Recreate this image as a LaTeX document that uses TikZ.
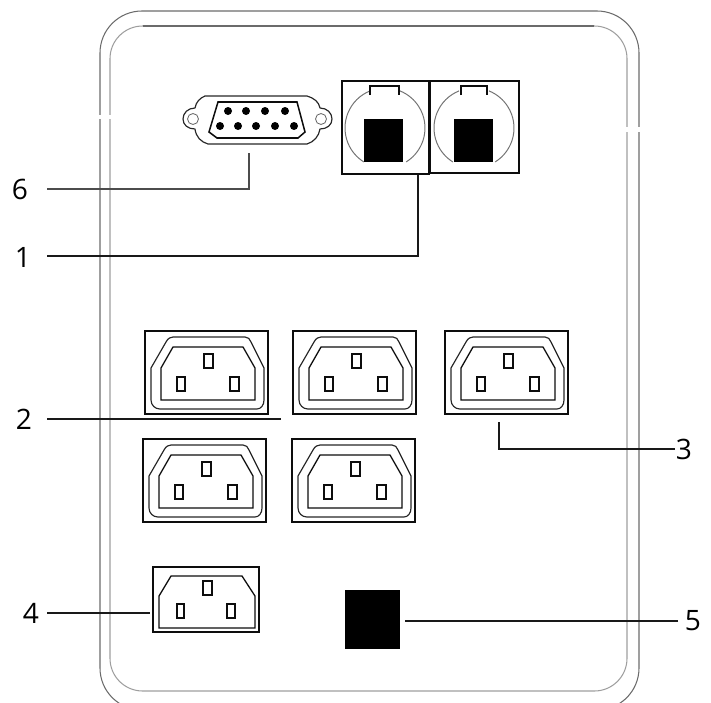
\documentclass[tikz,border=0pt]{standalone}
\usepackage{fontspec}
\setmainfont{Open Sans}
\definecolor{framedark}{rgb}{0.42,0.42,0.42}
\definecolor{framelight}{rgb}{0.62,0.62,0.62}
\definecolor{ringgray}{rgb}{0.45,0.45,0.45}
\tikzset{
  numlabel/.style={font=\fontsize{24}{26}\selectfont,inner sep=0pt},
  leader/.style={line width=1pt,color=black!90},
  port/.style={line width=1.1pt,color=black!95},
  outline/.style={line width=1pt,color=black!85,line join=round},
  ring/.style={line width=0.85pt,color=ringgray}
}
\begin{document}
\begin{tikzpicture}[line cap=butt,line join=miter,x=0.03cm,y=0.03cm]
\clip (0,0) rectangle (711,-702);
% case
\draw [line width=0.9pt,color=framedark,rounded corners=1.26cm] (100,-11) rectangle (639,-710);
\draw [line width=0.9pt,color=framelight,rounded corners=0.98cm] (110,-26) rectangle (627,-691);
\draw [line width=0.9pt,color=framedark] (143,-26) -- (594,-26);
\fill [white] (96,-115) rectangle (116,-119);
\fill [white] (622,-127) rectangle (644,-132);
% serial port
\draw [outline] (205,-96) -- (307,-96) .. controls (314,-98) and (319,-102) .. (320,-108)
  .. controls (327,-108) and (332,-113) .. (332,-119) .. controls (332,-125) and (327,-129) .. (320,-129)
  .. controls (319,-136) and (314,-142) .. (307,-144) -- (208,-144)
  .. controls (201,-142) and (196,-137) .. (195,-129) .. controls (188,-129) and (183,-125) .. (183,-119)
  .. controls (183,-113) and (188,-108) .. (195,-108) .. controls (196,-102) and (200,-98) .. (205,-96) -- cycle;
\draw [line width=0.7pt,color=black!60] (193,-119) circle (5.5);
\draw [line width=0.7pt,color=black!60] (321,-119) circle (5.5);
\draw [port,line width=1.3pt] (218,-102) -- (297,-102) -- (305,-132) -- (298,-138) -- (217,-138) -- (209,-132) -- cycle;
\foreach \x in {228,246,265,285}
\fill (\x,-111) circle (4);
\foreach \x in {220,238,256,275,294}
\fill (\x,-126) circle (4);
% jacks
\draw [port,line width=1.3pt] (342,-81) rectangle (429,-174);
\draw [port,line width=1.3pt] (430,-81) rectangle (519,-173);
\foreach \x/\a/\b/\c/\d in {385/364/403/370/399,474/454/493/461/487}{
\draw [ring] (\x,-128) ++(-58:40) arc[start angle=-58,end angle=68,radius=40];
\draw [ring] (\x,-128) ++(112:40) arc[start angle=112,end angle=238,radius=40];
\fill (\a,-119) rectangle (\b,-162);
\draw [port] (\c,-95) -- (\c,-86) -- (\d,-86) -- (\d,-95);
}
% sockets
\foreach \x/\y in {145/331,293/331,445/331,143/439,292/439}{
\begin{scope}[shift={(\x,-\y)}]
\draw [port] (0,0) rectangle (123,-83);
\draw [outline] (6,-37) -- (21,-11) .. controls (23,-7) and (26,-6) .. (28,-6) -- (100,-6) .. controls (103,-6) and (105,-8) .. (106,-11) -- (119,-37)
  -- (119,-69) .. controls (119,-74) and (116,-78) .. (112,-78) -- (15,-78) .. controls (10,-78) and (6,-74) .. (6,-69) -- cycle;
\draw [port] (16,-37) -- (28,-16) -- (98,-16) -- (110,-37) -- (110,-69) -- (16,-69) -- cycle;
\draw [port] (59,-23) rectangle (68,-37);
\draw [port] (32,-46) rectangle (40,-60);
\draw [port] (85,-46) rectangle (94,-60);
\end{scope}
}
% input socket
\draw [port] (153,-567) rectangle (259,-632);
\draw [port] (159,-596) -- (171,-576) -- (242,-576) -- (255,-596) -- (255,-628) -- (159,-628) -- cycle;
\draw [port] (203,-581) rectangle (212,-595);
\draw [port] (177,-604) rectangle (184,-618);
\draw [port] (227,-604) rectangle (235,-618);
% switch
\fill (345,-590) rectangle (400,-649);
% labels and leaders
\node [numlabel] (lab6) at (20,-189) {6};
\node [numlabel] (lab1) at (23,-257) {1};
\node [numlabel] (lab2) at (24,-419) {2};
\node [numlabel] (lab3) at (684,-449) {3};
\node [numlabel] (lab4) at (31,-613) {4};
\node [numlabel] (lab5) at (693,-621) {5};
\coordinate (from6) at (47,-189);
\coordinate (to6) at (249,-153);
\coordinate (from1) at (47,-256);
\coordinate (to1) at (418,-175);
\coordinate (from2) at (47,-419);
\coordinate (to2) at (281,-419);
\coordinate (from3) at (675,-449);
\coordinate (to3) at (499,-422);
\coordinate (from4) at (47,-613);
\coordinate (to4) at (150,-613);
\coordinate (from5) at (678,-621);
\coordinate (to5) at (405,-621);
\draw [leader,color=black!70] (from6) -| (to6);
\draw [leader] (from1) -| (to1);
\draw [leader] (from2) -- (to2);
\draw [leader] (from3) -| (to3);
\draw [leader] (from4) -- (to4);
\draw [leader] (from5) -- (to5);
\end{tikzpicture}
\end{document}
